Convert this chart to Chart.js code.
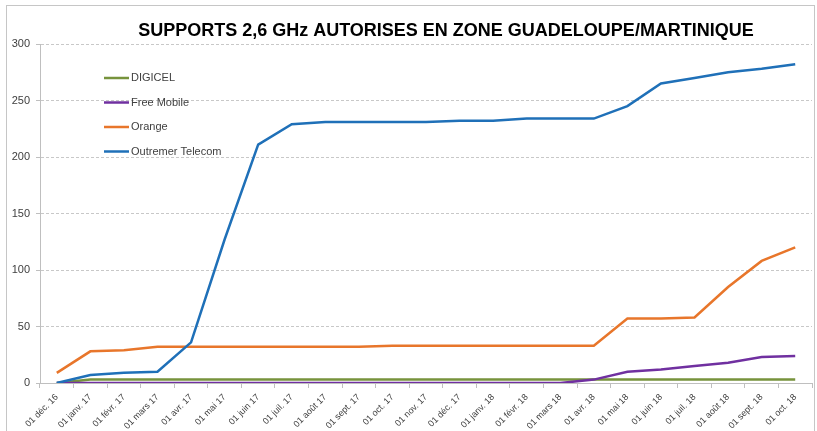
<!DOCTYPE html>
<html>
<head>
<meta charset="utf-8">
<script src="https://cdn.jsdelivr.net/npm/chart.js@4"></script>
<style>
  html, body { margin: 0; padding: 0; background: #fff; }
  #wrap { width: 817px; height: 431px; position: relative; }
</style>
</head>
<body>
<div id="wrap"><canvas id="chart"></canvas></div>
<script>
// données
const mois = ['01 déc. 16', '01 janv. 17', '01 févr. 17', '01 mars 17', '01 avr. 17', '01 mai 17',
  '01 juin 17', '01 juil. 17', '01 août 17', '01 sept. 17', '01 oct. 17', '01 nov. 17',
  '01 déc. 17', '01 janv. 18', '01 févr. 18', '01 mars 18', '01 avr. 18', '01 mai 18',
  '01 juin 18', '01 juil. 18', '01 août 18', '01 sept. 18', '01 oct. 18'];

const digicel = [0, 3, 3, 3, 3, 3, 3, 3, 3, 3, 3, 3, 3, 3, 3, 3, 3, 3, 3, 3, 3, 3, 3];
const freeMobile = [0, 0, 0, 0, 0, 0, 0, 0, 0, 0, 0, 0, 0, 0, 0, 0, 3, 10, 12, 15, 18, 23, 24];
const orange = [9, 28, 29, 32, 32, 32, 32, 32, 32, 32, 33, 33, 33, 33, 33, 33, 33, 57, 57, 58, 85, 108, 120];
const outremer = [0, 7, 9, 10, 36, 127, 211, 229, 231, 231, 231, 231, 232, 232, 234, 234, 234, 245, 265, 270, 275, 278, 282];

const titre = 'SUPPORTS 2,6 GHz AUTORISES EN ZONE GUADELOUPE/MARTINIQUE';

// cadre, titre et légende dessinés à la main
const decor = {
  id: 'decor',
  beforeDraw(chart) {
    const ctx = chart.ctx;
    ctx.save();
    ctx.strokeStyle = '#c6c6c6';
    ctx.lineWidth = 1;
    ctx.strokeRect(6.5, 5.5, 808, 440);
    ctx.restore();
  },
  afterDraw(chart) {
    const ctx = chart.ctx;
    ctx.save();
    ctx.fillStyle = '#000';
    ctx.font = 'bold 18px "Liberation Sans", Arial, sans-serif';
    ctx.textAlign = 'center';
    ctx.textBaseline = 'middle';
    ctx.fillText(titre, 446, 31);

    ctx.font = '11px "Liberation Sans", Arial, sans-serif';
    ctx.textAlign = 'left';
    chart.data.datasets.forEach((ds, i) => {
      const y = 78 + i * 24.5;
      ctx.strokeStyle = ds.borderColor;
      ctx.lineWidth = 2.5;
      ctx.beginPath();
      ctx.moveTo(104, y);
      ctx.lineTo(129, y);
      ctx.stroke();
      ctx.fillStyle = '#404040';
      ctx.fillText(ds.label, 131, y);
    });
    ctx.restore();
  }
};

new Chart(document.getElementById('chart'), {
  type: 'line',
  data: {
    labels: mois,
    datasets: [
      { label: 'DIGICEL', data: digicel, borderColor: '#77933C', order: 4 },
      { label: 'Free Mobile', data: freeMobile, borderColor: '#7030A0', order: 3 },
      { label: 'Orange', data: orange, borderColor: '#E8762B', order: 2 },
      { label: 'Outremer Telecom', data: outremer, borderColor: '#1F70B8', order: 1 }
    ]
  },
  options: {
    responsive: true,
    maintainAspectRatio: false,
    animation: false,
    layout: { padding: { left: 0, right: 5, top: 44, bottom: 0 } },
    elements: {
      line: { borderWidth: 2.5, tension: 0, fill: false },
      point: { radius: 0 }
    },
    plugins: {
      legend: { display: false },
      title: { display: false },
      tooltip: { enabled: false }
    },
    scales: {
      x: {
        offset: true,
        afterFit: s => { s.height = 48; },
        grid: { offset: true, drawOnChartArea: false, drawTicks: true, tickLength: 5, tickColor: '#bfbfbf' },
        border: { color: '#bfbfbf', width: 1 },
        ticks: {
          minRotation: 45, maxRotation: 45, autoSkip: false, padding: 4,
          color: '#404040',
          font: { family: '"Liberation Sans", Arial, sans-serif', size: 9 }
        }
      },
      y: {
        min: 0, max: 300,
        afterFit: s => { s.width = 40; },
        grid: { color: '#c8c8c8', lineWidth: 1, tickLength: 4, tickColor: '#bfbfbf' },
        border: { color: '#bfbfbf', width: 1, dash: [3, 2] },
        ticks: {
          stepSize: 50, padding: 6,
          color: '#404040',
          font: { family: '"Liberation Sans", Arial, sans-serif', size: 11 }
        }
      }
    }
  },
  plugins: [decor]
});
</script>
</body>
</html>
